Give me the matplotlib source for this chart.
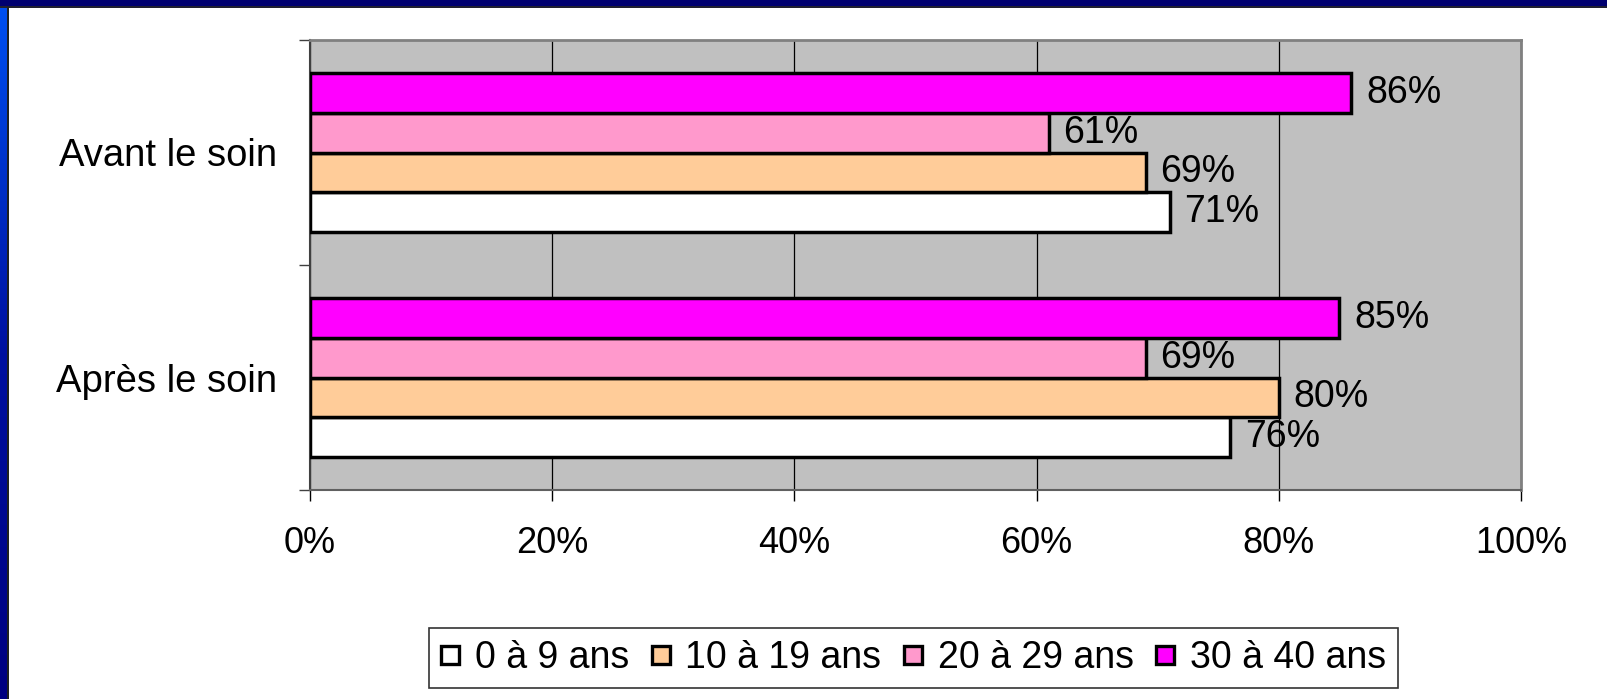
import numpy as np
import matplotlib
matplotlib.use('Agg')
import matplotlib.pyplot as plt
from matplotlib.patches import Rectangle
from matplotlib.lines import Line2D

plt.rcParams['font.family'] = ['Liberation Sans', 'DejaVu Sans']

categories = ['Après le soin', 'Avant le soin']
series = ['0 à 9 ans', '10 à 19 ans', '20 à 29 ans', '30 à 40 ans']
# values per series, in order of categories (Après, Avant)
v_0_9 = [76, 71]
v_10_19 = [80, 69]
v_20_29 = [69, 61]
v_30_40 = [85, 86]
values = [v_0_9, v_10_19, v_20_29, v_30_40]
colors = ['#FFFFFF', '#FFCC99', '#FF99CC', '#FF00FF']
xticks = [0, 20, 40, 60, 80, 100]

W, H = 1607, 699
fig = plt.figure(figsize=(W / 100, H / 100), dpi=100, facecolor='white')

# slide frame: navy top bar and blue gradient strip on the left
fig.patches.append(Rectangle((0, 1 - 6 / H), 1, 6 / H, transform=fig.transFigure,
                             facecolor='#000070', edgecolor='none', zorder=0))
fig.patches.append(Rectangle((0, 1 - 7.5 / H), 1, 1.5 / H, transform=fig.transFigure,
                             facecolor='#202030', edgecolor='none', zorder=0))
gax = fig.add_axes([0, 0, 7 / W, 1 - 6 / H])
grad = np.linspace(0, 1, 256).reshape(-1, 1)
cmap = matplotlib.colors.LinearSegmentedColormap.from_list('g', ['#0050F0', '#0010A0', '#000080'])
gax.imshow(grad, aspect='auto', cmap=cmap, origin='upper')
gax.axis('off')
fig.patches.append(Rectangle((7 / W, 0), 2 / W, 1 - 6 / H, transform=fig.transFigure,
                             facecolor='#202020', edgecolor='none', zorder=0))

ax = fig.add_axes([310 / W, 209 / H, 1211 / W, 450 / H])
ax.set_facecolor('#C0C0C0')

y = np.arange(len(categories))
h = 0.1767
for i, (vals, c, name) in enumerate(zip(values, colors, series)):
    pos = y + (i - 1.5) * h
    ax.barh(pos, vals, height=h, color=c, edgecolor='black', linewidth=2.5,
            label=name, zorder=3)
    for p, v in zip(pos, vals):
        ax.text(v + 1.2, p, f'{v}%', va='center', ha='left', fontsize=27, zorder=4)

ax.set_xlim(0, 100)
ax.set_ylim(-0.5, 1.5)
ax.set_xticks(xticks)
ax.set_xticklabels([f'{t}%' for t in xticks])
ax.xaxis.grid(True, color='black', linewidth=0.9, zorder=1)
ax.set_axisbelow(True)

ax.set_yticks([-0.5, 0.5, 1.5])
ax.set_yticklabels([])
ax.set_yticks(y, minor=True)
ax.set_yticklabels(categories, minor=True)
ax.tick_params(axis='y', which='minor', length=0, pad=24, labelsize=27.5)
ax.tick_params(axis='y', which='major', length=8, width=1, color='#404040')
ax.tick_params(axis='x', length=8, width=1, pad=18, labelsize=26, color='black')

for s in ['top', 'right']:
    ax.spines[s].set_color('#808080')
    ax.spines[s].set_linewidth(2)
ax.spines['bottom'].set_color('#606060')
ax.spines['bottom'].set_linewidth(1.5)
ax.spines['left'].set_color('#404040')
ax.spines['left'].set_linewidth(1.5)

handles = [Line2D([], [], marker='s', linestyle='none', markersize=13.5,
                  markerfacecolor=c, markeredgecolor='black', markeredgewidth=2.4)
           for c in colors]
leg = fig.legend(handles, series, loc='center', ncol=4,
                 bbox_to_anchor=(913.5 / W, 41 / H), fontsize=27,
                 frameon=True, fancybox=False, edgecolor='black',
                 handlelength=0.5, handletextpad=0.4,
                 columnspacing=0.6, borderpad=0.32)
leg.get_frame().set_linewidth(1.2)

fig.savefig('out.png', dpi=100, facecolor='white')
